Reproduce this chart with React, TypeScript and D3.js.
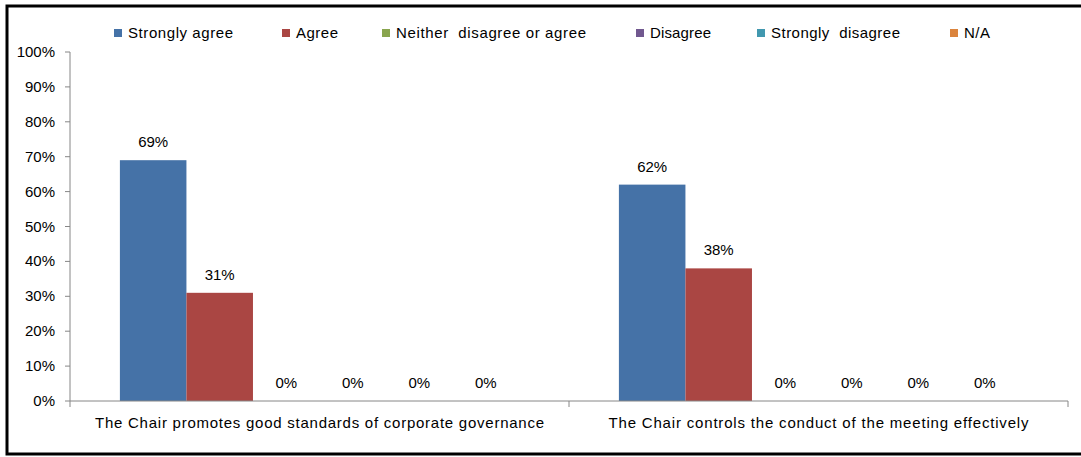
import React from "react";
import * as d3 from "d3";

const categories = [
  "The Chair promotes good standards of corporate governance",
  "The Chair controls the conduct of the meeting effectively",
];
const seriesNames = [
  "Strongly agree",
  "Agree",
  "Neither  disagree or agree",
  "Disagree",
  "Strongly  disagree",
  "N/A",
];
const values = [
  [0.69, 0.31, 0, 0, 0, 0],
  [0.62, 0.38, 0, 0, 0, 0],
];
const yTicks = [0, 0.1, 0.2, 0.3, 0.4, 0.5, 0.6, 0.7, 0.8, 0.9, 1.0];

// styling / layout
const seriesColors = ["#4572A7", "#AA4643", "#89A54E", "#71588F", "#4198AF", "#DB843D"];
const legendLayout = [
  { x: 114, w: 105 },
  { x: 282, w: 42 },
  { x: 382, w: 190 },
  { x: 636, w: 61 },
  { x: 757, w: 129 },
  { x: 950, w: 26 },
];
const categoryLabelWidth = [449, 420];

const W = 1081;
const H = 457;
const FONT = "'Liberation Sans', Arial, sans-serif";

export default function App() {
  const x0 = d3.scaleBand<string>().domain(categories).range([70, 1068]).padding(0);
  const x1 = d3
    .scaleBand<string>()
    .domain(seriesNames)
    .range([0, x0.bandwidth()])
    .paddingInner(0)
    .paddingOuter(0.75);
  const y = d3.scaleLinear().domain([0, 1]).range([401, 52]);
  const fmt = d3.format(".0%");
  const axisColor = "#868686";

  return (
    <svg
      width={W}
      height={H}
      style={{ position: "absolute", left: 0, top: 0, background: "#fff" }}
      fontFamily={FONT}
    >
      <rect x={7} y={6} width={1090} height={448} fill="#fff" stroke="#000" strokeWidth={3} />
      {/* legend */}
      {seriesNames.map((s, i) => (
        <g key={s}>
          <rect x={legendLayout[i].x} y={29} width={8} height={8} fill={seriesColors[i]} />
          <text
            x={legendLayout[i].x + 14}
            y={38}
            fontSize={15}
            fill="#000"
            textLength={legendLayout[i].w}
            lengthAdjust="spacing"
            style={{ whiteSpace: "pre" }}
          >
            {s}
          </text>
        </g>
      ))}
      {/* y axis */}
      <line x1={70} x2={70} y1={y(0)} y2={y(1)} stroke={axisColor} />
      {yTicks.map((t) => (
        <g key={t}>
          <line x1={65} x2={70} y1={y(t)} y2={y(t)} stroke={axisColor} />
          <text x={55} y={y(t) + 5} fontSize={15} textAnchor="end" fill="#000">
            {fmt(t)}
          </text>
        </g>
      ))}
      {/* bars */}
      {categories.map((c, ci) => (
        <g key={c}>
          {seriesNames.map((s, si) => {
            const v = values[ci][si];
            const bx = (x0(c) as number) + (x1(s) as number);
            return (
              <g key={s}>
                <rect
                  x={bx}
                  y={y(v)}
                  width={x1.bandwidth()}
                  height={y(0) - y(v)}
                  fill={seriesColors[si]}
                />
                <text
                  x={bx + x1.bandwidth() / 2}
                  y={y(v) - 13}
                  fontSize={15}
                  textAnchor="middle"
                  fill="#000"
                >
                  {fmt(v)}
                </text>
              </g>
            );
          })}
          <text
            x={(x0(c) as number) + x0.bandwidth() / 2}
            y={428}
            fontSize={15}
            textAnchor="middle"
            fill="#000"
            textLength={categoryLabelWidth[ci]}
            lengthAdjust="spacing"
          >
            {c}
          </text>
        </g>
      ))}
      {/* x axis */}
      <line x1={70} x2={1068} y1={y(0)} y2={y(0)} stroke={axisColor} />
      {[...categories.map((c) => x0(c) as number), 1068].map((t) => (
        <line key={t} x1={t} x2={t} y1={y(0)} y2={y(0) + 6} stroke={axisColor} />
      ))}
    </svg>
  );
}
